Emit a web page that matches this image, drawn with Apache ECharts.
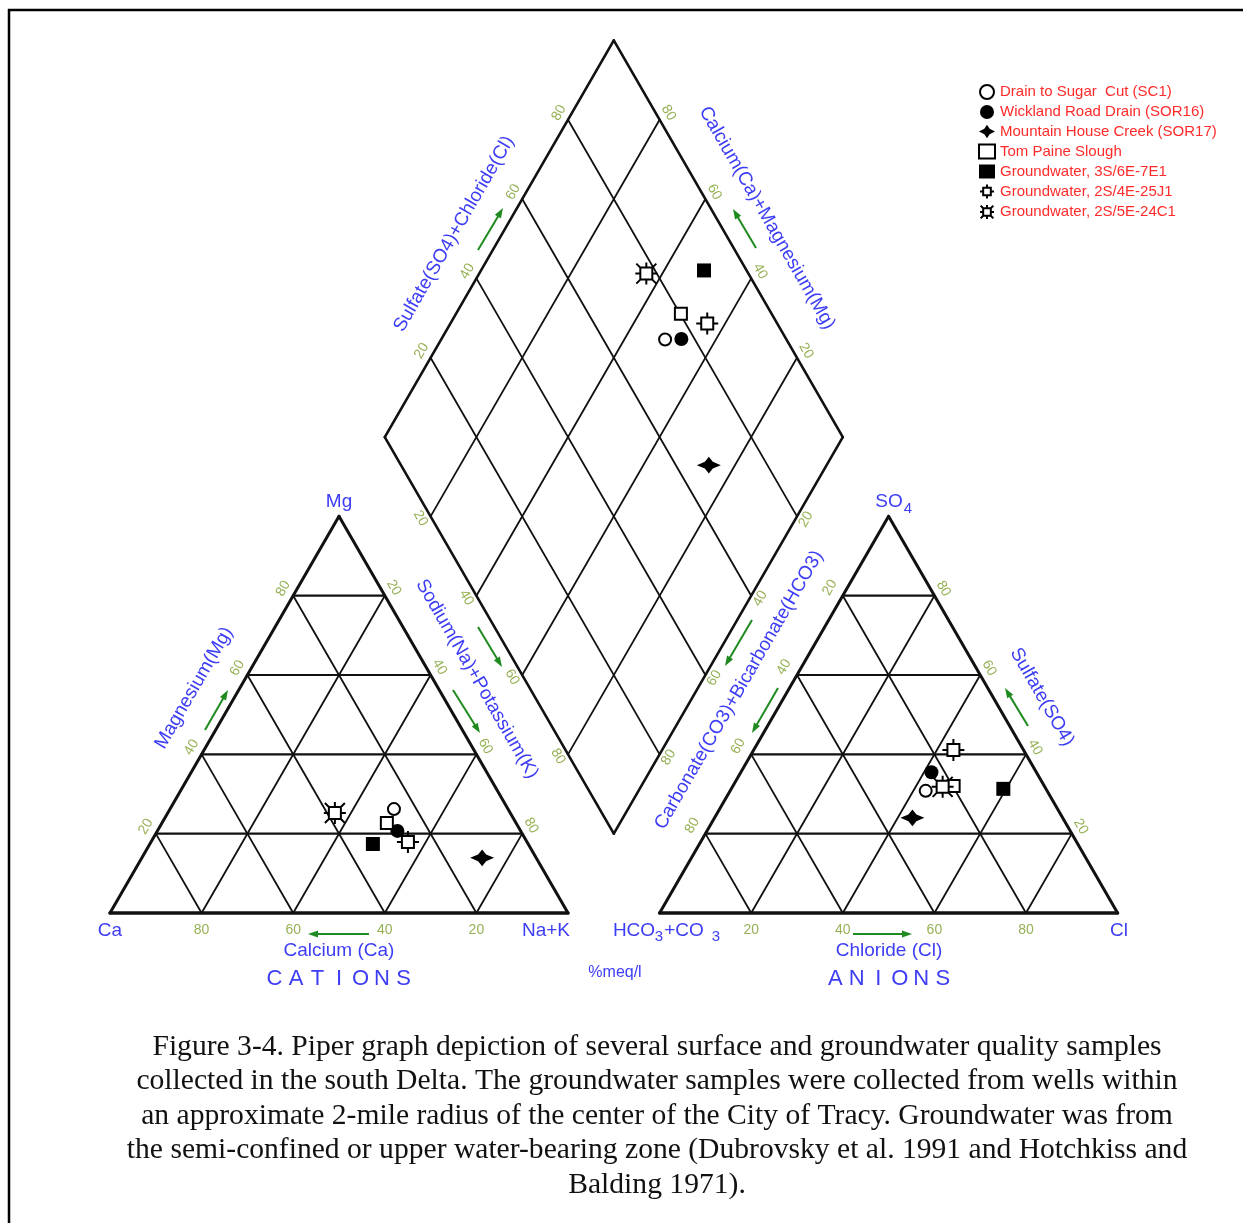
<!DOCTYPE html>
<html>
<head>
<meta charset="utf-8">
<title>Piper graph</title>
<script src="https://cdn.jsdelivr.net/npm/echarts@6.0.0/dist/echarts.min.js"></script>
<style>html,body{margin:0;padding:0;background:#fff;}</style>
</head>
<body>
<div id="main" style="width:1243px;height:1223px;"></div>
<script type="text/javascript">
// samples
var sampleNames = [
    'Drain to Sugar  Cut (SC1)',
    'Wickland Road Drain (SOR16)',
    'Mountain House Creek (SOR17)',
    'Tom Paine Slough',
    'Groundwater, 3S/6E-7E1',
    'Groundwater, 2S/4E-25J1',
    'Groundwater, 2S/5E-24C1'
];
// cations, %meq/l
var caPct  = [24.9, 26.9, 11.8, 28.2, 33.9, 26.0, 38.3];
var mgPct  = [26.2, 20.7, 13.9, 22.7, 17.4, 17.9, 25.2];
var naKPct = [48.9, 52.4, 74.3, 49.1, 48.7, 56.1, 36.5];
// anions, %meq/l
var hco3Pct = [26.5, 22.9, 32.8, 19.8, 9.3, 15.3, 22.3];
var so4Pct  = [30.8, 35.5, 24.0, 32.0, 31.3, 41.1, 31.8];
var clPct   = [42.7, 41.6, 43.2, 48.2, 59.4, 43.6, 45.9];
var tickValues = [20, 40, 60, 80];

var captionLines = [
    'Figure 3-4. Piper graph depiction of several surface and groundwater quality samples',
    'collected in the south Delta. The groundwater samples were collected from wells within',
    'an approximate 2-mile radius of the center of the City of Tracy. Groundwater was from',
    'the semi-confined or upper water-bearing zone (Dubrovsky et al. 1991 and Hotchkiss and',
    'Balding 1971).'
];

// geometry: triangle side = 100 units, gap between triangles = 20 units
var H = Math.sqrt(3) / 2;
var GAP = 20;
var RX = 100 + GAP; // right triangle origin
var DL = [60, 100 * H + GAP * H];
var DB = [110, GAP * H];
var DR = [160, 100 * H + GAP * H];
var DT = [110, 200 * H + GAP * H];

// pixel mapping (1 unit = S px, Ca corner at OX,OY)
var W = 1243, HT = 1223, S = 4.58, OX = 110, OY = 913;

function leftPt(i) { return [naKPct[i] + mgPct[i] / 2, mgPct[i] * H]; }
function rightPt(i) { return [RX + clPct[i] + so4Pct[i] / 2, so4Pct[i] * H]; }
// projection of both triangle points into the diamond
function diamondPt(i) {
    var p1 = leftPt(i), p2 = rightPt(i);
    var sum = 2 * (p2[0] - p1[0]);
    var diff = (p2[1] - p1[1]) / H;
    var t = (sum + diff) / 2;
    return [p1[0] + 0.5 * t, p1[1] + H * t];
}
function lerp(a, b, f) { return [a[0] + (b[0] - a[0]) * f, a[1] + (b[1] - a[1]) * f]; }

// grid segments [x1,y1,x2,y2,width]
var segs = [];
function seg(a, b, w) { segs.push([a[0], a[1], b[0], b[1], w]); }
function triangle(ox) {
    var A = [ox, 0], B = [ox + 100, 0], C = [ox + 50, 100 * H];
    tickValues.forEach(function (k) {
        seg([ox + k / 2, k * H], [ox + 100 - k / 2, k * H], 2.2);
        seg([ox + k, 0], [ox + k + (100 - k) / 2, (100 - k) * H], 1.8);
        seg([ox + 100 - k, 0], [ox + (100 - k) / 2, (100 - k) * H], 1.8);
    });
    seg(A, B, 3.4); seg(B, C, 3); seg(C, A, 3);
}
triangle(0);
triangle(RX);
tickValues.forEach(function (k) {
    var f = k / 100;
    var p = lerp(DL, DB, f);
    seg(p, [p[0] + DT[0] - DL[0], p[1] + DT[1] - DL[1]], 1.8);
    var q = lerp(DL, DT, f);
    seg(q, [q[0] + DB[0] - DL[0], q[1] + DB[1] - DL[1]], 1.8);
});
seg(DL, DT, 2.6); seg(DT, DR, 2.6); seg(DR, DB, 2.6); seg(DB, DL, 2.6);

// tick labels along the edges; off = wanted screen offset in px
var tickData = [];
function tick(pt, v, off, rot) {
    var th = rot * Math.PI / 180, c = Math.cos(th), s = Math.sin(th);
    var local = [off[0] * c - off[1] * s, off[0] * s + off[1] * c];
    tickData.push({ value: pt, name: String(v), label: { offset: local, rotate: rot } });
}
tickValues.forEach(function (v) {
    tick([100 - v, 0], v, [0, 17], 0);
    tick([v / 2, v * H], v, [-10, -7], 60);
    tick([100 - (100 - v) / 2, (100 - v) * H], v, [9, -8], -60);
    tick([RX + v, 0], v, [0, 17], 0);
    tick([RX + (100 - v) / 2, (100 - v) * H], v, [-13, -8], 60);
    tick([RX + 100 - v / 2, v * H], v, [9, -7], -60);
    tick(lerp(DL, DT, v / 100), v, [-9, -7], 60);
    tick(lerp(DL, DB, v / 100), v, [-10, 2], -60);
    tick(lerp(DR, DT, v / 100), v, [9, -7], -60);
    tick(lerp(DR, DB, v / 100), v, [9, 3], 60);
});

// marker styles
var sqTicks = 'M-6,-6L6,-6L6,6L-6,6Z M0,-6L0,-11 M0,6L0,11 M-6,0L-11,0 M6,0L11,0';
var sqSun = sqTicks + ' M-6,-6L-10,-10 M6,-6L10,-10 M6,6L10,10 M-6,6L-10,10';
var markers = [
    { symbol: 'circle', size: 12, fill: '#fff' },
    { symbol: 'circle', size: 14, fill: '#000' },
    { symbol: 'path://M0,-10L4,-4L12,0L4,4L0,10L-4,4L-12,0L-4,-4Z', size: [24, 20], fill: '#000' },
    { symbol: 'rect', size: 12, fill: '#fff' },
    { symbol: 'rect', size: 14, fill: '#000' },
    { symbol: 'path://' + sqTicks, size: 22, fill: '#fff' },
    { symbol: 'path://' + sqSun, size: 22, fill: '#fff' }
];

var series = [{
    type: 'custom',
    silent: true,
    data: segs,
    encode: { x: [0, 2], y: [1, 3] },
    renderItem: function (params, api) {
        var p1 = api.coord([api.value(0), api.value(1)]);
        var p2 = api.coord([api.value(2), api.value(3)]);
        return {
            type: 'line',
            shape: { x1: p1[0], y1: p1[1], x2: p2[0], y2: p2[1] },
            style: { stroke: '#111', lineWidth: api.value(4), lineCap: 'round' }
        };
    },
    z: 1
}, {
    type: 'scatter',
    silent: true,
    symbolSize: 0,
    data: tickData,
    label: {
        show: true, position: 'inside', formatter: '{b}',
        color: '#7a9e2a', fontSize: 14, fontFamily: 'Liberation Sans'
    },
    z: 2
}];
sampleNames.forEach(function (name, i) {
    var m = markers[i];
    series.push({
        name: name,
        type: 'scatter',
        symbol: m.symbol,
        symbolSize: m.size,
        symbolKeepAspect: true,
        itemStyle: { color: m.fill, borderColor: '#000', borderWidth: m.fill === '#fff' ? 2 : 0, opacity: 1 },
        data: [leftPt(i), rightPt(i), diamondPt(i)],
        z: 5
    });
});

// text and decorations (pixel positions)
var BLUE = '#3d3df5', GREEN = '#1f8a1f';
var g = [];
function txt(s, x, y, size, color, rot, font) {
    g.push({
        type: 'text', x: x, y: y, rotation: (rot || 0) * Math.PI / 180, silent: true,
        style: {
            text: s, fill: color || BLUE, align: 'center', verticalAlign: 'middle',
            font: (size || 19) + 'px ' + (font || '"Liberation Sans", Arial, sans-serif')
        }
    });
}
function arrow(x0, y0, x1, y1) {
    var dx = x1 - x0, dy = y1 - y0, L = Math.sqrt(dx * dx + dy * dy);
    var ux = dx / L, uy = dy / L;
    g.push({ type: 'line', silent: true, shape: { x1: x0, y1: y0, x2: x1 - ux * 6, y2: y1 - uy * 6 },
        style: { stroke: GREEN, lineWidth: 2 } });
    g.push({ type: 'polygon', silent: true, shape: { points: [
        [x1, y1], [x1 - ux * 10 - uy * 3.5, y1 - uy * 10 + ux * 3.5], [x1 - ux * 10 + uy * 3.5, y1 - uy * 10 - ux * 3.5]
    ] }, style: { fill: GREEN } });
}
// page frame
g.push({ type: 'line', silent: true, shape: { x1: 8, y1: 10, x2: 1243, y2: 10 }, style: { stroke: '#000', lineWidth: 2.5 } });
g.push({ type: 'line', silent: true, shape: { x1: 9, y1: 9, x2: 9, y2: 1223 }, style: { stroke: '#000', lineWidth: 2.5 } });

// corner labels
txt('Mg', 339, 502);
txt('Ca', 110, 931);
txt('Na+K', 546, 931);
txt('Cl', 1119, 931);
txt('SO', 889, 502);
txt('4', 908, 509, 15);
txt('HCO', 634, 931);
txt('3', 659, 937, 15);
txt('+CO', 684, 931);
txt('3', 716, 937, 15);

// axis titles
txt('Calcium (Ca)', 339, 951);
txt('Chloride (Cl)', 889, 951);
txt('Magnesium(Mg)', 194, 688, 19, BLUE, 60);
txt('Sodium(Na)+Potassium(K)', 477, 679, 19, BLUE, -60);
txt('Sulfate(SO4)+Chloride(Cl)', 454, 234, 19, BLUE, 60);
txt('Calcium(Ca)+Magnesium(Mg)', 767, 218, 19, BLUE, -60);
txt('Carbonate(CO3)+Bicarbonate(HCO3)', 739, 690, 19, BLUE, 60);
txt('Sulfate(SO4)', 1042, 697, 19, BLUE, -60);
txt('%meq/l', 615, 973, 16);
'CATIONS'.split('').forEach(function (c, k) { txt(c, 339 + (k - 3) * 21.5, 979, 22); });
'ANIONS'.split('').forEach(function (c, k) { txt(c, 889 + (k - 2.5) * 21.5, 979, 22); });

// direction arrows
arrow(369, 934, 308, 934);
arrow(205, 730, 228, 690);
arrow(453, 690, 480, 733);
arrow(478, 250, 503, 208);
arrow(478, 627, 502, 667);
arrow(756, 248, 733, 209);
arrow(752, 620, 725, 666);
arrow(778, 688, 752, 733);
arrow(1028, 726, 1005, 688);
arrow(853, 934, 912, 934);

// caption
captionLines.forEach(function (s, k) {
    txt(s, 657, 1047 + k * 34.5, 29.6, '#111', 0, '"Liberation Serif", "Times New Roman", serif');
});

var myChart = echarts.init(document.getElementById('main'));
var option = {
    animation: false,
    backgroundColor: '#fff',
    grid: { left: 0, top: 0, width: W, height: HT, show: false },
    xAxis: { type: 'value', min: -OX / S, max: (W - OX) / S, show: false },
    yAxis: { type: 'value', min: -(HT - OY) / S, max: OY / S, show: false },
    legend: {
        data: sampleNames,
        orient: 'vertical',
        left: 973,
        top: 79,
        itemWidth: 16,
        itemHeight: 14,
        itemGap: 4.5,
        selectedMode: false,
        textStyle: { color: '#ff2a2a', fontSize: 15, fontFamily: 'Liberation Sans' }
    },
    series: series,
    graphic: g
};
myChart.setOption(option);
</script>
</body>
</html>
